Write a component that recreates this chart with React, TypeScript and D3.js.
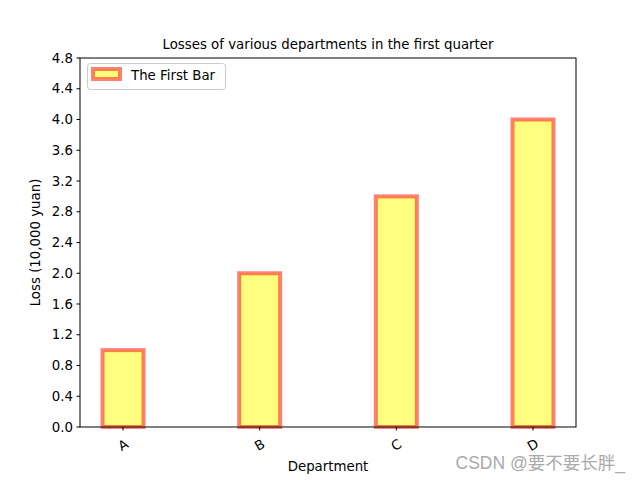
import React from "react";
import * as d3 from "d3";

const categories = ["A", "B", "C", "D"];
const values = [1, 2, 3, 4];
const yTicks = [0, 0.4, 0.8, 1.2, 1.6, 2.0, 2.4, 2.8, 3.2, 3.6, 4.0, 4.4, 4.8];
const title = "Losses of various departments in the first quarter";
const xLabel = "Department";
const yLabel = "Loss (10,000 yuan)";
const legendLabel = "The First Bar";
const watermark = "CSDN @要不要长胖_";

const W = 640, H = 480;
const m = { left: 80, right: 576, top: 58, bottom: 427 };
const barW = 0.3;
const font = "'DejaVu Sans', sans-serif";

export default function App() {
  const x = d3.scaleLinear().domain([-0.315, 3.315]).range([m.left, m.right]);
  const y = d3.scaleLinear().domain([0, 4.8]).range([m.bottom, m.top]);
  return (
    <svg width={W} height={H} style={{ display: "block", position: "absolute", left: 0, top: 0 }} fontFamily={font}>
      <rect width={W} height={H} fill="#fff" />
      {values.map((v, i) => {
        const x0 = x(i - barW / 2), x1 = x(i + barW / 2);
        return (
          <rect key={i} x={x0} y={y(v)} width={x1 - x0} height={y(0) - y(v)}
            fill="yellow" fillOpacity={0.5} stroke="red" strokeOpacity={0.5} strokeWidth={4} />
        );
      })}
      <rect x={m.left} y={m.top} width={m.right - m.left} height={m.bottom - m.top} fill="none" stroke="#000" strokeWidth={1} />
      {yTicks.map((t) => (
        <g key={t} transform={`translate(${m.left},${y(t)})`}>
          <line x1={-3.5} x2={0} stroke="#000" />
          <text x={-7} dy="0.35em" textAnchor="end" fontSize={13.33}>{t.toFixed(1)}</text>
        </g>
      ))}
      {categories.map((c, i) => (
        <g key={c} transform={`translate(${x(i)},${m.bottom})`}>
          <line y1={0} y2={3.5} stroke="#000" />
          <text transform="translate(0,18) rotate(-30)" textAnchor="middle" dy="0.35em" fontSize={13.33}>{c}</text>
        </g>
      ))}
      <text x={(m.left + m.right) / 2} y={m.top - 9} textAnchor="middle" fontSize={13.33}>{title}</text>
      <text x={(m.left + m.right) / 2} y={471} textAnchor="middle" fontSize={13.33}>{xLabel}</text>
      <text transform={`translate(40,${(m.top + m.bottom) / 2}) rotate(-90)`} textAnchor="middle" fontSize={13.33}>{yLabel}</text>
      <g>
        <rect x={87.5} y={63.5} width={138} height={26} rx={3} fill="#fff" fillOpacity={0.8} stroke="#ccc" />
        <rect x={93} y={69} width={27} height={10} fill="yellow" fillOpacity={0.5} stroke="red" strokeOpacity={0.5} strokeWidth={4} />
        <text x={131} y={79.5} fontSize={13.33}>{legendLabel}</text>
      </g>
      <text x={625} y={469} textAnchor="end" fontSize={17.5} fill="#aaa" fontFamily="'Liberation Sans', 'Noto Sans CJK SC', sans-serif">{watermark}</text>
    </svg>
  );
}
